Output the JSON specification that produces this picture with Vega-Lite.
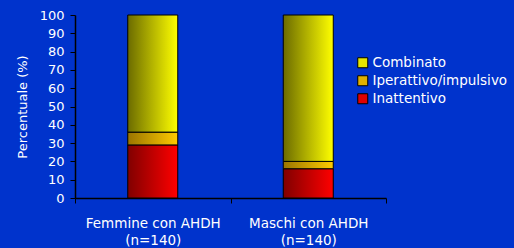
{
  "$schema": "https://vega.github.io/schema/vega-lite/v6.json",
  "autosize": "none",
  "width": 311,
  "height": 183,
  "padding": {"left": 75, "top": 15, "right": 128, "bottom": 50},
  "background": "#0033cc",
  "data": {
    "values": [
      {"gruppo": "Femmine con AHDH|(n=140)", "tipo": "Inattentivo", "ord": 1, "valore": 29},
      {"gruppo": "Femmine con AHDH|(n=140)", "tipo": "Iperattivo/impulsivo", "ord": 2, "valore": 7},
      {"gruppo": "Femmine con AHDH|(n=140)", "tipo": "Combinato", "ord": 3, "valore": 64},
      {"gruppo": "Maschi con AHDH|(n=140)", "tipo": "Inattentivo", "ord": 1, "valore": 16},
      {"gruppo": "Maschi con AHDH|(n=140)", "tipo": "Iperattivo/impulsivo", "ord": 2, "valore": 4},
      {"gruppo": "Maschi con AHDH|(n=140)", "tipo": "Combinato", "ord": 3, "valore": 80}
    ]
  },
  "config": {
    "view": {"stroke": null},
    "font": "DejaVu Sans"
  },
  "transform": [
    {"stack": "valore", "groupby": ["gruppo"], "sort": [{"field": "ord", "order": "ascending"}], "as": ["v0", "v1"]}
  ],
  "encoding": {
    "x": {
      "field": "gruppo",
      "type": "nominal",
      "sort": null,
      "scale": {"paddingInner": 0, "paddingOuter": 0},
      "axis": {
        "title": null,
        "labelAngle": 0,
        "labelExpr": "split(datum.label, '|')",
        "labelColor": "#ffffff",
        "labelFontSize": 13.5,
        "labelPadding": 13,
        "labelLineHeight": 17,
        "domainColor": "#000000",
        "tickColor": "#000000",
        "tickBand": "extent",
        "tickSize": 5,
        "domainWidth": 1.5
      }
    },
    "y": {
      "field": "v0",
      "type": "quantitative",
      "scale": {"domain": [0, 100], "nice": false},
      "axis": {
        "title": "Percentuale (%)",
        "titleColor": "#ffffff",
        "titleFontSize": 13,
        "titleFontWeight": "normal",
        "titlePadding": 10,
        "values": [0, 10, 20, 30, 40, 50, 60, 70, 80, 90, 100],
        "labelColor": "#ffffff",
        "labelFontSize": 13,
        "labelPadding": 6,
        "grid": false,
        "domainColor": "#000000",
        "domainWidth": 1.5,
        "tickColor": "#000000",
        "tickSize": 5
      }
    },
    "y2": {"field": "v1"},
    "color": {
      "field": "tipo",
      "type": "nominal",
      "sort": ["Combinato", "Iperattivo/impulsivo", "Inattentivo"],
      "scale": {
        "domain": ["Combinato", "Iperattivo/impulsivo", "Inattentivo"],
        "range": ["#e6e600", "#e0b000", "#e00000"]
      },
      "legend": {
        "title": null,
        "orient": "none",
        "legendX": 281,
        "legendY": 41,
        "symbolType": "square",
        "symbolSize": 100,
        "symbolStrokeColor": "#000000",
        "symbolStrokeWidth": 1,
        "symbolOpacity": 1,
        "labelColor": "#ffffff",
        "labelFontSize": 13.5,
        "labelOffset": 3,
        "rowPadding": 3
      }
    }
  },
  "layer": [
    {
      "transform": [{"filter": "datum.tipo == 'Inattentivo'"}],
      "mark": {"type": "bar", "size": 50, "stroke": "#000000", "strokeWidth": 1,
        "fill": {"gradient": "linear", "x1": 0, "y1": 0, "x2": 1, "y2": 0, "stops": [{"offset": 0, "color": "#800000"}, {"offset": 1, "color": "#ff0000"}]}}
    },
    {
      "transform": [{"filter": "datum.tipo == 'Iperattivo/impulsivo'"}],
      "mark": {"type": "bar", "size": 50, "stroke": "#000000", "strokeWidth": 1,
        "fill": {"gradient": "linear", "x1": 0, "y1": 0, "x2": 1, "y2": 0, "stops": [{"offset": 0, "color": "#9a7400"}, {"offset": 1, "color": "#ffcc00"}]}}
    },
    {
      "transform": [{"filter": "datum.tipo == 'Combinato'"}],
      "mark": {"type": "bar", "size": 50, "stroke": "#000000", "strokeWidth": 1,
        "fill": {"gradient": "linear", "x1": 0, "y1": 0, "x2": 1, "y2": 0, "stops": [{"offset": 0, "color": "#6b6b00"}, {"offset": 1, "color": "#ffff00"}]}}
    }
  ]
}
